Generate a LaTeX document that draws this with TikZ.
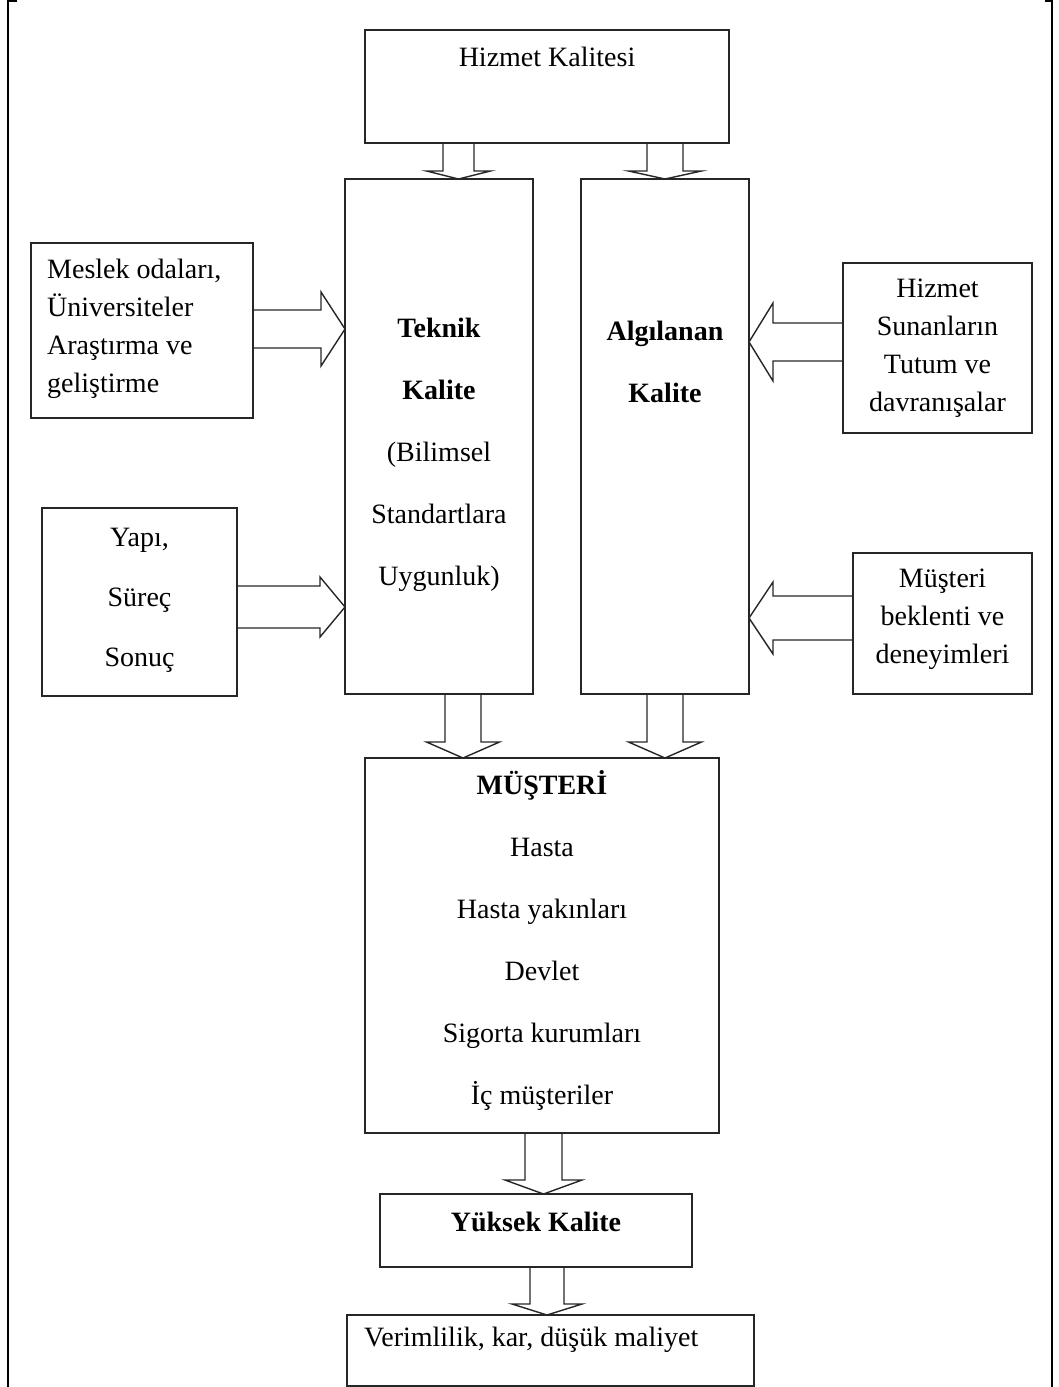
\documentclass[tikz,border=0pt]{standalone}
\usepackage{fontspec}
\setmainfont{Liberation Serif}
\usetikzlibrary{calc,positioning}
\tikzset{
  box/.style={draw=black!85,line width=1.4pt,inner sep=0pt,outer sep=0pt},
  blk/.style={draw=black!85,line width=1.4pt,line join=miter},
  txt/.style={inner sep=0pt,align=center,font=\fontsize{28}{38}\selectfont},
  wtxt/.style={inner sep=0pt,align=center,font=\fontsize{28}{62}\selectfont},
  frame/.style={line width=2.5pt}
}
\newcommand{\downblock}[6]{%
  \draw[blk] let \p1=(#2), \p2=(#3) in
    (#1pt-#4pt,\y1) -- (#1pt-#4pt,\y2+#6pt) -- (#1pt-#5pt,\y2+#6pt) -- (#1pt,\y2)
    -- (#1pt+#5pt,\y2+#6pt) -- (#1pt+#4pt,\y2+#6pt) -- (#1pt+#4pt,\y1);}
\newcommand{\sideblock}[6]{%
  \draw[blk] let \p1=(#2), \p2=(#3) in
    (\x1,-#1pt+#4pt) -- (\x2+#6pt,-#1pt+#4pt) -- (\x2+#6pt,-#1pt+#5pt) -- (\x2,-#1pt)
    -- (\x2+#6pt,-#1pt-#5pt) -- (\x2+#6pt,-#1pt-#4pt) -- (\x1,-#1pt-#4pt);}

\begin{document}
\begin{tikzpicture}[x=1pt,y=-1pt]
  \useasboundingbox (0,0) rectangle (1059,1387);
  \draw[frame] (17,1) -- (8,1) -- (8,1387);
  \draw[frame] (1045,1) -- (1052,1) -- (1052,1387);

  \node[box,minimum width=364,minimum height=113] (hk) at (547,86.5) {};
  \node[box,minimum width=188,minimum height=515] (tk) at (439,436.5) {};
  \node[box,minimum width=168,minimum height=515] (ak) at (665,436.5) {};
  \node[box,minimum width=222,minimum height=175] (ml) at (142,330.5) {};
  \node[box,minimum width=195,minimum height=188] (yp) at (139.5,602) {};
  \node[box,minimum width=189,minimum height=170] (hs) at (937.5,348) {};
  \node[box,minimum width=179,minimum height=141] (mb) at (942.5,623.5) {};
  \node[box,minimum width=354,minimum height=375] (ms) at (542,945.5) {};
  \node[box,minimum width=312,minimum height=73] (yk) at (536,1230.5) {};
  \node[box,minimum width=407,minimum height=71] (vr) at (550.5,1350.5) {};

  \node[txt] (hkt) at (547,57) {Hizmet Kalitesi};
  \node[wtxt] (tkt) at (439,455) {\textbf{Teknik}\\\textbf{Kalite}\\(Bilimsel\\Standartlara\\Uygunluk)};
  \node[wtxt] (akt) at (665,361.5) {\textbf{Algılanan}\\\textbf{Kalite}};
  \node[txt,align=left,anchor=west] (mlt) at (47,328.5) {Meslek odaları,\\Üniversiteler\\Araştırma ve\\geliştirme};
  \node[txt,font=\fontsize{28}{60}\selectfont] (ypt) at (139.5,600) {Yapı,\\Süreç\\Sonuç};
  \node[txt] (hst) at (937.5,348) {Hizmet\\Sunanların\\Tutum ve\\davranışalar};
  \node[txt] (mbt) at (942.5,619.5) {Müşteri\\beklenti ve\\deneyimleri};
  \node[wtxt] (mst) at (542,940) {\textbf{MÜŞTERİ}\\Hasta\\Hasta yakınları\\Devlet\\Sigorta kurumları\\İç müşteriler};
  \node[txt,font=\bfseries\fontsize{28}{38}\selectfont] (ykt) at (536,1222) {Yüksek Kalite};
  \node[txt,anchor=west] (vrt) at (364,1340) {Verimlilik, kar, düşük maliyet};

  \downblock{458.5}{hk.south}{tk.north}{15.5}{32}{8}
  \downblock{665}{hk.south}{ak.north}{18}{36.5}{8}
  \sideblock{329}{ml.east}{tk.west}{19}{37}{-24}
  \sideblock{607}{yp.east}{tk.west}{21}{30}{-25}
  \sideblock{342}{hs.west}{ak.east}{19}{39}{24}
  \sideblock{618}{mb.west}{ak.east}{22}{36}{24}
  \downblock{463}{tk.south}{ms.north}{18}{36.5}{16}
  \downblock{665}{ak.south}{ms.north}{18}{36.5}{16}
  \downblock{543.5}{ms.south}{yk.north}{18.5}{38.5}{14}
  \downblock{547}{yk.south}{vr.north}{17}{35}{11}
\end{tikzpicture}
\end{document}
